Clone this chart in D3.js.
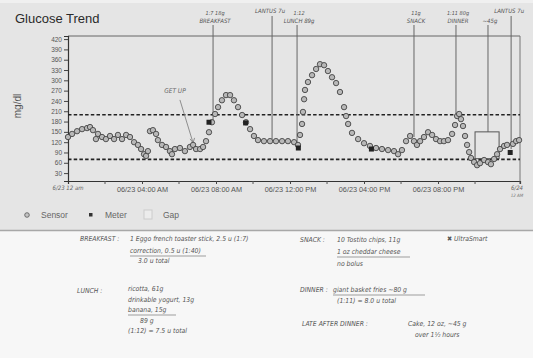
<!DOCTYPE html>
<html><head><meta charset="utf-8">
<script src="https://cdn.jsdelivr.net/npm/d3@7"></script>
<style>
html,body{margin:0;padding:0;background:#f6f6f6;}
svg{display:block;}
</style></head>
<body>
<svg id="c" width="533" height="358"></svg>
<script>
// ---------- data ----------
const sensorHours = [0,0.22,0.49,0.76,1.03,1.19,1.35,1.51,1.62,1.84,
2.05,2.27,2.49,2.70,2.92,3.14,3.35,3.57,3.78,3.95,
4.11,4.22,4.32,4.43,4.59,4.76,4.86,5.08,5.30,5.51,
5.62,5.78,6.05,6.32,6.59,6.76,6.92,7.14,7.30,7.46,
7.62,7.78,7.95,8.11,8.32,8.54,8.76,8.97,9.19,9.41,
9.62,9.84,10.05,10.27,10.59,10.92,11.24,11.57,11.89,12.22,
12.43,12.54,12.65,12.70,12.76,12.81,12.97,13.19,13.41,13.62,
13.84,14.05,14.27,14.49,14.70,14.92,15.03,15.14,15.35,15.68,
16.00,16.32,16.65,16.97,17.30,17.62,17.84,18.05,18.27,18.49,
18.70,18.86,19.03,19.24,19.46,19.68,19.89,20.11,20.32,20.54,
20.76,20.92,21.03,21.14,21.24,21.35,21.46,21.57,21.68,21.78,
21.95,22.11,22.27,22.49,22.70,22.86,23.03,23.19,23.35,23.57,
23.73,24.05,24.22,24.38];
const sensorValues = [135,144,152,158,161,164,155,129,144,135,
129,138,129,141,129,141,135,120,112,100,
85,80,94,152,155,144,126,112,106,94,
85,100,103,94,106,112,100,100,106,123,
149,178,202,222,242,257,257,242,222,199,
178,158,138,126,123,123,123,123,123,120,
112,141,173,208,245,272,295,315,333,347,
344,327,309,292,266,222,196,173,147,129,
117,109,103,100,97,94,85,97,123,138,
123,112,123,135,149,141,129,123,123,126,
144,170,196,202,187,167,138,112,91,74,
62,53,59,68,62,56,71,85,100,109,
112,115,123,126];
const meterHours = [7.62, 9.6, 12.45, 16.4, 23.9];
const meterValues = [178, 176, 103, 100, 90];
const targetLow = 70, targetHigh = 200;
const yTicks = [30,60,90,120,150,180,210,240,270,300,330,360,390,420];
const xTickHours = [4, 8, 12, 16, 20];
const xTickLabels = ["06/23 04:00 AM","06/23 08:00 AM","06/23 12:00 PM","06/23 04:00 PM","06/23 08:00 PM"];
const xMinorHours = [2,6,10,14,18,22,24.43];
const gapStart = 22.0, gapEnd = 23.3, gapTop = 150, gapBottom = 72;
// annotation events (hand-drawn lines)
const eventHours  = [7.84, 11.03, 12.38, 18.70, 20.97, 22.70, 23.95];
const eventEnds   = [173, 129, 100, 135, 195, 150, 100];
const eventLine1  = ["1:7  18g", "LANTUS 7u", "1:12", "11g", "1:11  80g", "", "LANTUS 7u"];
const eventLine2  = ["BREAKFAST", "", "LUNCH 89g", "SNACK", "DINNER", "~45g", ""];

// ---------- layout ----------
const svg = d3.select("#c");
const W = 533, H = 358;
const x = d3.scaleLinear().domain([0, 24.43]).range([68, 520]);
const y = d3.scaleLinear().domain([7, 429]).range([181, 36]);
const hand = "'DejaVu Sans Condensed','Liberation Sans Narrow','DejaVu Sans',sans-serif";

// backgrounds
svg.append("rect").attr("x",0).attr("y",0).attr("width",W).attr("height",231).attr("fill","#e5e5e5");
svg.append("rect").attr("x",0).attr("y",231).attr("width",W).attr("height",H-231).attr("fill","#f7f7f7");
svg.append("line").attr("x1",0).attr("x2",W).attr("y1",230.5).attr("y2",230.5).attr("stroke","#a8a8a8").attr("stroke-width",1.5);
svg.append("rect").attr("x",0).attr("y",0).attr("width",W).attr("height",3).attr("fill","#f0f0f0");

// title
svg.append("text").attr("x",15).attr("y",23).text("Glucose Trend")
  .attr("font-family","'Liberation Sans',Arial,sans-serif").attr("font-size",13).attr("fill","#2a2a2a");

// y label
svg.append("text").attr("transform","translate(21,106) rotate(-90)").attr("text-anchor","middle")
  .attr("font-family","'Liberation Sans',Arial,sans-serif").attr("font-size",10).attr("fill","#555").text("mg/dl");

// plot frame (top & right)
svg.append("line").attr("x1",x(0)).attr("x2",x(24.43)).attr("y1",y(429)).attr("y2",y(429)).attr("stroke","#666").attr("stroke-width",1);
svg.append("line").attr("x1",x(24.43)).attr("x2",x(24.43)).attr("y1",y(429)).attr("y2",y(7)).attr("stroke","#777").attr("stroke-width",1);

// axes
const yAxis = d3.axisLeft(y).tickValues(yTicks).tickSize(4).tickPadding(2);
const gy = svg.append("g").attr("transform",`translate(${x(0)},0)`).call(yAxis);
gy.select(".domain").attr("stroke","#333").attr("stroke-width",1.2);
gy.selectAll(".tick line").attr("stroke","#444");
gy.selectAll("text").attr("font-family","'Liberation Sans',Arial,sans-serif").attr("font-size",6.5).attr("fill","#555");

const xAxis = d3.axisBottom(x).tickValues(xTickHours).tickFormat((d,i)=>xTickLabels[i]).tickSize(3).tickPadding(3);
const gx = svg.append("g").attr("transform",`translate(0,${y(7)})`).call(xAxis);
gx.select(".domain").attr("stroke","#333").attr("stroke-width",1.2);
gx.selectAll(".tick line").attr("stroke","#444");
gx.selectAll("text").attr("font-family","'Liberation Sans',Arial,sans-serif").attr("font-size",7.3).attr("fill","#555");
svg.append("g").selectAll("line").data(xMinorHours).join("line")
  .attr("x1",d=>x(d)).attr("x2",d=>x(d)).attr("y1",y(7)).attr("y2",y(7)+3).attr("stroke","#555");

// handwritten start / end labels
svg.append("text").attr("x",x(0)).attr("y",190).attr("text-anchor","middle")
  .attr("font-family",hand).attr("font-style","italic").attr("font-size",6).attr("fill","#666").text("6/23 12 am");
svg.append("text").attr("x",x(24.43)-3).attr("y",190).attr("text-anchor","middle")
  .attr("font-family",hand).attr("font-style","italic").attr("font-size",6).attr("fill","#666").text("6/24");
svg.append("text").attr("x",x(24.43)-3).attr("y",197).attr("text-anchor","middle")
  .attr("font-family",hand).attr("font-style","italic").attr("font-size",4.5).attr("fill","#777").text("12 AM");

// target lines
svg.append("g").selectAll("line").data([targetHigh, targetLow]).join("line")
  .attr("x1",x(0)).attr("x2",x(24.43)).attr("y1",d=>y(d)).attr("y2",d=>y(d))
  .attr("stroke","#222").attr("stroke-width",1.6).attr("stroke-dasharray","3.5,2.2");

// event lines
const ev = eventHours.map((h,i)=>({h, end:eventEnds[i], l1:eventLine1[i], l2:eventLine2[i]}));
svg.append("g").selectAll("line").data(ev).join("line")
  .attr("x1",d=>x(d.h)).attr("x2",d=>x(d.h))
  .attr("y1",d=>d.l2 ? 25 : 16).attr("y2",d=>y(d.end))
  .attr("stroke","#666").attr("stroke-width",1);
const evText = svg.append("g").attr("font-family",hand).attr("font-style","italic").attr("fill","#555").attr("text-anchor","middle");
ev.forEach(d=>{
  if (d.l2) {
    evText.append("text").attr("x",x(d.h)+2).attr("y",15).attr("font-size",5.5).text(d.l1);
    evText.append("text").attr("x",x(d.h)+2).attr("y",23).attr("font-size",6).text(d.l2);
  } else {
    evText.append("text").attr("x",x(d.h)-2).attr("y",13).attr("font-size",6).text(d.l1);
  }
});

// gap box
svg.append("rect").attr("x",x(gapStart)).attr("y",y(gapTop)).attr("width",x(gapEnd)-x(gapStart))
  .attr("height",y(gapBottom)-y(gapTop)).attr("fill","none").attr("stroke","#555").attr("stroke-width",1);

// GET UP annotation
svg.append("text").attr("x",x(5.78)).attr("y",y(262)).attr("text-anchor","middle")
  .attr("font-family",hand).attr("font-style","italic").attr("font-size",6.5).attr("fill","#666").text("GET UP");
svg.append("line").attr("x1",x(6.05)).attr("y1",y(243)).attr("x2",x(6.76)).attr("y2",y(118))
  .attr("stroke","#777").attr("stroke-width",0.8);
svg.append("path").attr("d",`M${x(6.76)-3},${y(118)-4} L${x(6.76)},${y(118)} L${x(6.76)+1.5},${y(118)-5}`)
  .attr("fill","none").attr("stroke","#777").attr("stroke-width",0.8);

// sensor points
const sensor = sensorHours.map((h,i)=>({h, v:sensorValues[i]}));
svg.append("g").selectAll("circle").data(sensor).join("circle")
  .attr("cx",d=>x(d.h)).attr("cy",d=>y(d.v)).attr("r",2.7)
  .attr("fill","#b8b8b8").attr("stroke","#444").attr("stroke-width",0.9);

// meter points
const meter = meterHours.map((h,i)=>({h, v:meterValues[i]}));
svg.append("g").selectAll("rect").data(meter).join("rect")
  .attr("x",d=>x(d.h)-2.5).attr("y",d=>y(d.v)-2.5).attr("width",5).attr("height",5).attr("fill","#222");

// legend
const lg = svg.append("g").attr("font-family","'Liberation Sans',Arial,sans-serif").attr("font-size",8.5).attr("fill","#666");
lg.append("circle").attr("cx",27).attr("cy",215).attr("r",2.3).attr("fill","#c4c4c4").attr("stroke","#555").attr("stroke-width",0.8);
lg.append("text").attr("x",41).attr("y",218).text("Sensor");
lg.append("rect").attr("x",89).attr("y",213).attr("width",3.5).attr("height",3.5).attr("fill","#333");
lg.append("text").attr("x",105).attr("y",218).text("Meter");
lg.append("rect").attr("x",144).attr("y",210).attr("width",8).attr("height",9).attr("fill","#ececec").attr("stroke","#ccc");
lg.append("text").attr("x",163).attr("y",218).text("Gap");

// handwritten notes
const notes = [
  [80,241,"BREAKFAST :"],[130,241,"1 Eggo french toaster stick, 2.5 u (1:7)"],
  [130,253,"correction, 0.5 u (1:40)"],[138,263,"3.0 u total"],
  [300,242,"SNACK :"],[337,242,"10 Tostito chips, 11g"],[337,254,"1 oz cheddar cheese"],[337,266,"no bolus"],
  [447,241,"✖ UltraSmart"],
  [77,293,"LUNCH :"],[128,291,"ricotta, 61g"],[128,302,"drinkable yogurt, 13g"],[128,312,"banana, 15g"],
  [140,323,"89 g"],[128,333,"(1:12) = 7.5 u total"],
  [300,292,"DINNER :"],[333,292,"giant basket fries ~80 g"],[337,303,"(1:11) = 8.0 u total"],
  [302,326,"LATE AFTER DINNER :"],[408,326,"Cake, 12 oz, ~45 g"],[415,337,"over 1½ hours"]
];
svg.append("g").selectAll("text").data(notes).join("text")
  .attr("x",d=>d[0]).attr("y",d=>d[1]).text(d=>d[2])
  .attr("font-family",hand).attr("font-style","italic").attr("font-size",6.8).attr("fill","#555");
// underlines
const underlines = [[130,206,256],[337,410,257],[128,176,315],[333,425,295]];
svg.append("g").selectAll("line").data(underlines).join("line")
  .attr("x1",d=>d[0]).attr("x2",d=>d[1]).attr("y1",d=>d[2]).attr("y2",d=>d[2])
  .attr("stroke","#777").attr("stroke-width",0.7);
</script>
</body></html>
